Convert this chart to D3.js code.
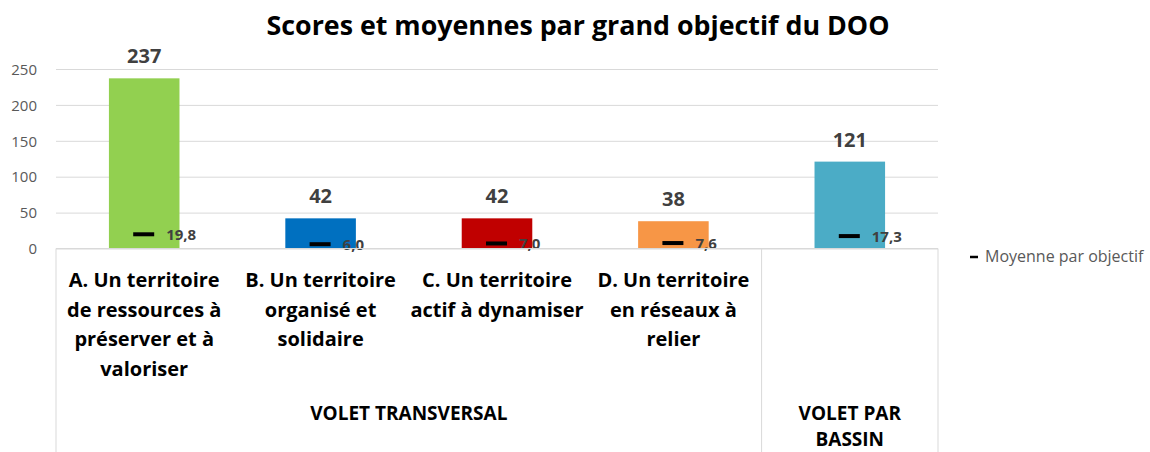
<!DOCTYPE html>
<html>
<head>
<meta charset="utf-8">
<script src="https://cdn.jsdelivr.net/npm/d3@7"></script>
<style>
  body { margin: 0; background: #fff; }
  svg { font-family: "Open Sans", Lato, sans-serif; }
  .grid line { stroke: #d9d9d9; stroke-width: 1; }
  .grid .domain { display: none; }
  .axis-y .domain, .axis-y line { display: none; }
  .axis-y text { fill: #595959; font-size: 15px; font-family: "Open Sans", sans-serif; }
</style>
</head>
<body>
<div id="chart"></div>
<script>
const categories = ["A", "B", "C", "D", "E"];
const categoryLines = [
  ["A. Un territoire", "de ressources à", "préserver et à", "valoriser"],
  ["B. Un territoire", "organisé et", "solidaire"],
  ["C. Un territoire", "actif à dynamiser"],
  ["D. Un territoire", "en réseaux à", "relier"],
  []
];
const scores = [237, 42, 42, 38, 121];
const means = [19.8, 6.0, 7.0, 7.6, 17.3];
const barColors = ["#92D050", "#0070C0", "#C00000", "#F79646", "#4BACC6"];
const groups = [
  { lines: ["VOLET TRANSVERSAL"], from: "A", to: "D" },
  { lines: ["VOLET PAR", "BASSIN"], from: "E", to: "E" }
];
const yTicks = [0, 50, 100, 150, 200, 250];

const width = 1150;
const height = 452;
const margin = { top: 69, right: 212, left: 56 };
const plotBottom = 248.5;

const svg = d3
  .select("#chart")
  .append("svg")
  .attr("width", width)
  .attr("height", height);

const x = d3
  .scaleBand()
  .domain(categories)
  .range([margin.left, width - margin.right])
  .paddingInner(0.6)
  .paddingOuter(0.3);

const y = d3.scaleLinear().domain([0, 250]).range([plotBottom, margin.top]);

// gridlines
svg
  .append("g")
  .attr("class", "grid")
  .attr("transform", `translate(${margin.left},0)`)
  .call(d3.axisLeft(y).tickValues(yTicks).tickSize(-(width - margin.right - margin.left)).tickFormat(""));

svg
  .append("g")
  .attr("class", "axis-y")
  .attr("transform", `translate(${margin.left - 16},0)`)
  .call(d3.axisLeft(y).tickValues(yTicks).tickSize(0))
  .selectAll("text")
  .attr("dy", "0.35em");

// title
svg
  .append("text")
  .attr("x", 578)
  .attr("y", 35)
  .attr("text-anchor", "middle")
  .attr("font-size", 26.8)
  .attr("font-weight", 700)
  .attr("fill", "#000")
  .text("Scores et moyennes par grand objectif du DOO");

// bars
svg
  .selectAll("rect.bar")
  .data(categories)
  .join("rect")
  .attr("class", "bar")
  .attr("x", (d) => x(d))
  .attr("y", (d, i) => y(scores[i]))
  .attr("width", x.bandwidth())
  .attr("height", (d, i) => y(0) - y(scores[i]))
  .attr("fill", (d, i) => barColors[i]);

svg
  .selectAll("text.score")
  .data(categories)
  .join("text")
  .attr("class", "score")
  .attr("x", (d) => x(d) + x.bandwidth() / 2)
  .attr("y", (d, i) => y(scores[i]) - 15)
  .attr("text-anchor", "middle")
  .attr("font-size", 20)
  .attr("font-weight", 700)
  .attr("fill", "#404040")
  .text((d, i) => scores[i]);

// mean markers
const cx = (d) => x(d) + x.bandwidth() / 2;
svg
  .selectAll("line.mean")
  .data(categories)
  .join("line")
  .attr("class", "mean")
  .attr("x1", (d) => cx(d) - 11)
  .attr("x2", (d) => cx(d) + 10)
  .attr("y1", (d, i) => y(means[i]))
  .attr("y2", (d, i) => y(means[i]))
  .attr("stroke", "#000")
  .attr("stroke-width", 4);

svg
  .selectAll("text.mean-label")
  .data(categories)
  .join("text")
  .attr("class", "mean-label")
  .attr("x", (d) => cx(d) + 22)
  .attr("y", (d, i) => y(means[i]) + 6)
  .attr("font-size", 15)
  .attr("font-weight", 700)
  .attr("fill", "#404040")
  .text((d, i) => means[i].toFixed(1).replace(".", ","));

// category axis
const step = x.step();
const left = margin.left;
const right = width - margin.right;
svg
  .append("line")
  .attr("x1", left)
  .attr("x2", right)
  .attr("y1", y(0))
  .attr("y2", y(0))
  .attr("stroke", "#d9d9d9");

const sepX = [left, x("E") - (step - x.bandwidth()) / 2, right];
svg
  .selectAll("line.sep")
  .data(sepX)
  .join("line")
  .attr("class", "sep")
  .attr("x1", (d) => d)
  .attr("x2", (d) => d)
  .attr("y1", y(0))
  .attr("y2", height)
  .attr("stroke", "#d9d9d9");

categories.forEach((c, i) => {
  const t = svg
    .append("text")
    .attr("x", cx(c))
    .attr("y", 287)
    .attr("text-anchor", "middle")
    .attr("font-size", 20)
    .attr("font-weight", 700)
    .attr("fill", "#000");
  categoryLines[i].forEach((line, j) => {
    t.append("tspan").attr("x", cx(c)).attr("dy", j === 0 ? 0 : 29.5).text(line);
  });
});

groups.forEach((g) => {
  const gx = (cx(g.from) + cx(g.to)) / 2;
  const t = svg
    .append("text")
    .attr("x", gx)
    .attr("y", 420)
    .attr("text-anchor", "middle")
    .attr("font-size", 19)
    .attr("font-weight", 700)
    .attr("fill", "#000");
  g.lines.forEach((line, j) => {
    t.append("tspan").attr("x", gx).attr("dy", j === 0 ? 0 : 26).text(line);
  });
});

// legend
svg
  .append("line")
  .attr("x1", 970)
  .attr("x2", 978)
  .attr("y1", 257)
  .attr("y2", 257)
  .attr("stroke", "#000")
  .attr("stroke-width", 2.5);
svg
  .append("text")
  .attr("x", 985)
  .attr("y", 262)
  .attr("font-size", 16)
  .attr("fill", "#595959")
  .text("Moyenne par objectif");
</script>
</body>
</html>
